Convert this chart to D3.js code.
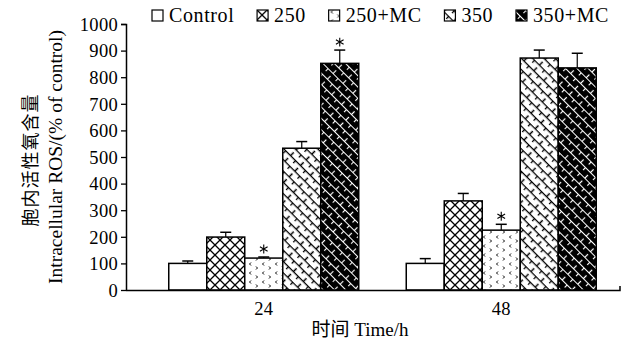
<!DOCTYPE html>
<html>
<head>
<meta charset="utf-8">
<script src="https://cdn.jsdelivr.net/npm/d3@7"></script>
<style>
  body { margin: 0; background: #fff; }
  #chart text { font-family: "Liberation Serif", "Times New Roman", "Noto Sans CJK SC", serif; fill: #000; font-size: 19px; }
  #chart text.tick-y { font-size: 18.5px; letter-spacing: 0.3px; }
  #chart text.leg { font-size: 20px; letter-spacing: 0.6px; }
  #chart text.ytitle { font-size: 19.5px; }
  #chart text.cjk { font-size: 18px; letter-spacing: 0.5px; }
</style>
</head>
<body>
<svg id="chart" width="624" height="343"></svg>
<script>
var groups = ["24", "48"];
var series = ["Control", "250", "250+MC", "350", "350+MC"];
var values24 = [100, 199, 120, 533, 852];
var values48 = [100, 335, 225, 872, 835];
var errors24 = [9, 18, 4, 25, 50];
var errors48 = [18, 28, 22, 30, 55];
var stars24 = [false, false, true, false, true];
var stars48 = [false, false, true, false, false];
var yTicks = [0, 100, 200, 300, 400, 500, 600, 700, 800, 900, 1000];

function init() {
  var svg = d3.select("#chart");
  var fills = ["#fff", "url(#p250)", "url(#p250mc)", "url(#p350)", "url(#p350mc)"];

  var defs = svg.append("defs");

  // diamond lattice
  var p1 = defs.append("pattern").attr("id", "p250")
    .attr("patternUnits", "userSpaceOnUse").attr("width", 10).attr("height", 10);
  p1.append("rect").attr("width", 10).attr("height", 10).attr("fill", "#fff");
  p1.append("path").attr("d", "M0,0L10,10M10,0L0,10").attr("stroke", "#000").attr("stroke-width", 1.3);

  // dots with chevrons
  var p2 = defs.append("pattern").attr("id", "p250mc")
    .attr("patternUnits", "userSpaceOnUse").attr("width", 13).attr("height", 9);
  p2.append("rect").attr("width", 13).attr("height", 9).attr("fill", "#fff");
  p2.append("path").attr("d", "M4,1.5L2.5,3L4,4.5M9,5.5L10.5,7L9,8.5")
    .attr("stroke", "#000").attr("stroke-width", 1).attr("fill", "none");

  // bricks, rotated
  var p3 = defs.append("pattern").attr("id", "p350")
    .attr("patternUnits", "userSpaceOnUse").attr("width", 14).attr("height", 8)
    .attr("patternTransform", "rotate(45)");
  p3.append("rect").attr("width", 14).attr("height", 8).attr("fill", "#fff");
  p3.append("path").attr("d", "M0,0.5H14M0.5,0V4M7.5,4V8")
    .attr("stroke", "#000").attr("stroke-width", 1.5);

  var p4 = defs.append("pattern").attr("id", "p350mc")
    .attr("patternUnits", "userSpaceOnUse").attr("width", 14).attr("height", 8)
    .attr("patternTransform", "rotate(45)");
  p4.append("rect").attr("width", 14).attr("height", 8).attr("fill", "#000");
  p4.append("path").attr("d", "M0,0.5H14M0.5,0V4M7.5,4V8")
    .attr("stroke", "#fff").attr("stroke-width", 1.2);

  var y = d3.scaleLinear().domain([0, 1000]).range([290, 24]);
  var x0 = d3.scaleBand().domain(groups).range([145, 620]).padding(0);
  var x1 = d3.scaleBand().domain(series).range([0, x0.bandwidth()]).paddingOuter(0.625).paddingInner(0);

  var data = [];
  groups.forEach(function (g, gi) {
    var vals = gi === 0 ? values24 : values48;
    var errs = gi === 0 ? errors24 : errors48;
    var stars = gi === 0 ? stars24 : stars48;
    series.forEach(function (s, si) {
      data.push({ group: g, key: s, i: si, value: vals[si], err: errs[si], star: stars[si] });
    });
  });

  // error bars
  var eb = svg.append("g").selectAll("g").data(data).enter().append("g")
    .attr("transform", function (d) { return "translate(" + (x0(d.group) + x1(d.key) + x1.bandwidth() / 2) + ",0)"; });
  eb.append("line").attr("x1", 0).attr("x2", 0)
    .attr("y1", function (d) { return y(d.value); })
    .attr("y2", function (d) { return y(d.value + d.err); })
    .attr("stroke", "#000").attr("stroke-width", 1.2);
  eb.append("line").attr("x1", -5.5).attr("x2", 5.5)
    .attr("y1", function (d) { return y(d.value + d.err); })
    .attr("y2", function (d) { return y(d.value + d.err); })
    .attr("stroke", "#000").attr("stroke-width", 1.5);
  eb.filter(function (d) { return d.star; }).append("path")
    .attr("d", d3.symbol(d3.symbolAsterisk, 55))
    .attr("transform", function (d) { return "translate(0," + (y(d.value + d.err) - 8) + ")"; })
    .attr("stroke", "#000").attr("stroke-width", 1.1).attr("fill", "none");

  // bars
  svg.append("g").selectAll("rect").data(data).enter().append("rect")
    .attr("x", function (d) { return x0(d.group) + x1(d.key); })
    .attr("y", function (d) { return y(d.value); })
    .attr("width", x1.bandwidth())
    .attr("height", function (d) { return y(0) - y(d.value); })
    .attr("fill", function (d) { return fills[d.i]; })
    .attr("stroke", "#000").attr("stroke-width", 1.5);

  // y axis
  var yAxis = d3.axisLeft(y).tickValues(yTicks).tickFormat(d3.format("d")).tickSize(5).tickPadding(3);
  var ya = svg.append("g").attr("transform", "translate(126,0)").call(yAxis);
  ya.attr("font-size", null).attr("font-family", null);
  ya.select(".domain").attr("stroke-width", 1.5).attr("d", "M-5,24.5H0.5V290.5");
  ya.selectAll(".tick line").attr("stroke-width", 1.3);
  ya.selectAll("text").attr("class", "tick-y").attr("dy", "0.34em");

  // x axis
  var xa = svg.append("g").attr("transform", "translate(0,290)");
  xa.append("path").attr("d", "M126,0.5H620V-4").attr("stroke", "#000").attr("stroke-width", 1.5).attr("fill", "none");
  xa.selectAll("text").data(groups).enter().append("text")
    .attr("class", "tick-y")
    .attr("x", function (d) { return x0(d) + x0.bandwidth() / 2; })
    .attr("y", 25).attr("text-anchor", "middle")
    .text(function (d) { return d; });

  var xt = svg.append("text").attr("x", 360).attr("y", 336).attr("text-anchor", "middle");
  xt.append("tspan").attr("class", "cjk").text("时间 ");
  xt.append("tspan").text("Time/h");

  svg.append("text").attr("class", "cjk").attr("transform", "translate(37,160) rotate(-90)").attr("text-anchor", "middle")
    .style("letter-spacing", "1px").text("胞内活性氧含量");
  svg.append("text").attr("class", "ytitle").attr("transform", "translate(62,157) rotate(-90)").attr("text-anchor", "middle")
    .text("Intracellular ROS/(% of control)");

  // legend, laid out left to right
  var leg = svg.append("g").selectAll("g").data(series).enter().append("g");
  leg.append("rect").attr("y", 10).attr("width", 11).attr("height", 11)
    .attr("fill", function (d, i) { return fills[i]; })
    .attr("stroke", "#000").attr("stroke-width", 1.2);
  leg.append("text").attr("class", "leg").attr("x", 17).attr("y", 22).text(function (d) { return d; });
  var widths = [];
  leg.select("text").each(function () { widths.push(this.getComputedTextLength()); });
  var start = 152, end = 609;
  var used = d3.sum(widths) + series.length * 17;
  var gap = (end - start - used) / (series.length - 1);
  var cx = start;
  leg.attr("transform", function (d, i) {
    var t = "translate(" + cx + ",0)";
    cx += 17 + widths[i] + gap;
    return t;
  });
}

window.addEventListener("DOMContentLoaded", init);
</script>
</body>
</html>
